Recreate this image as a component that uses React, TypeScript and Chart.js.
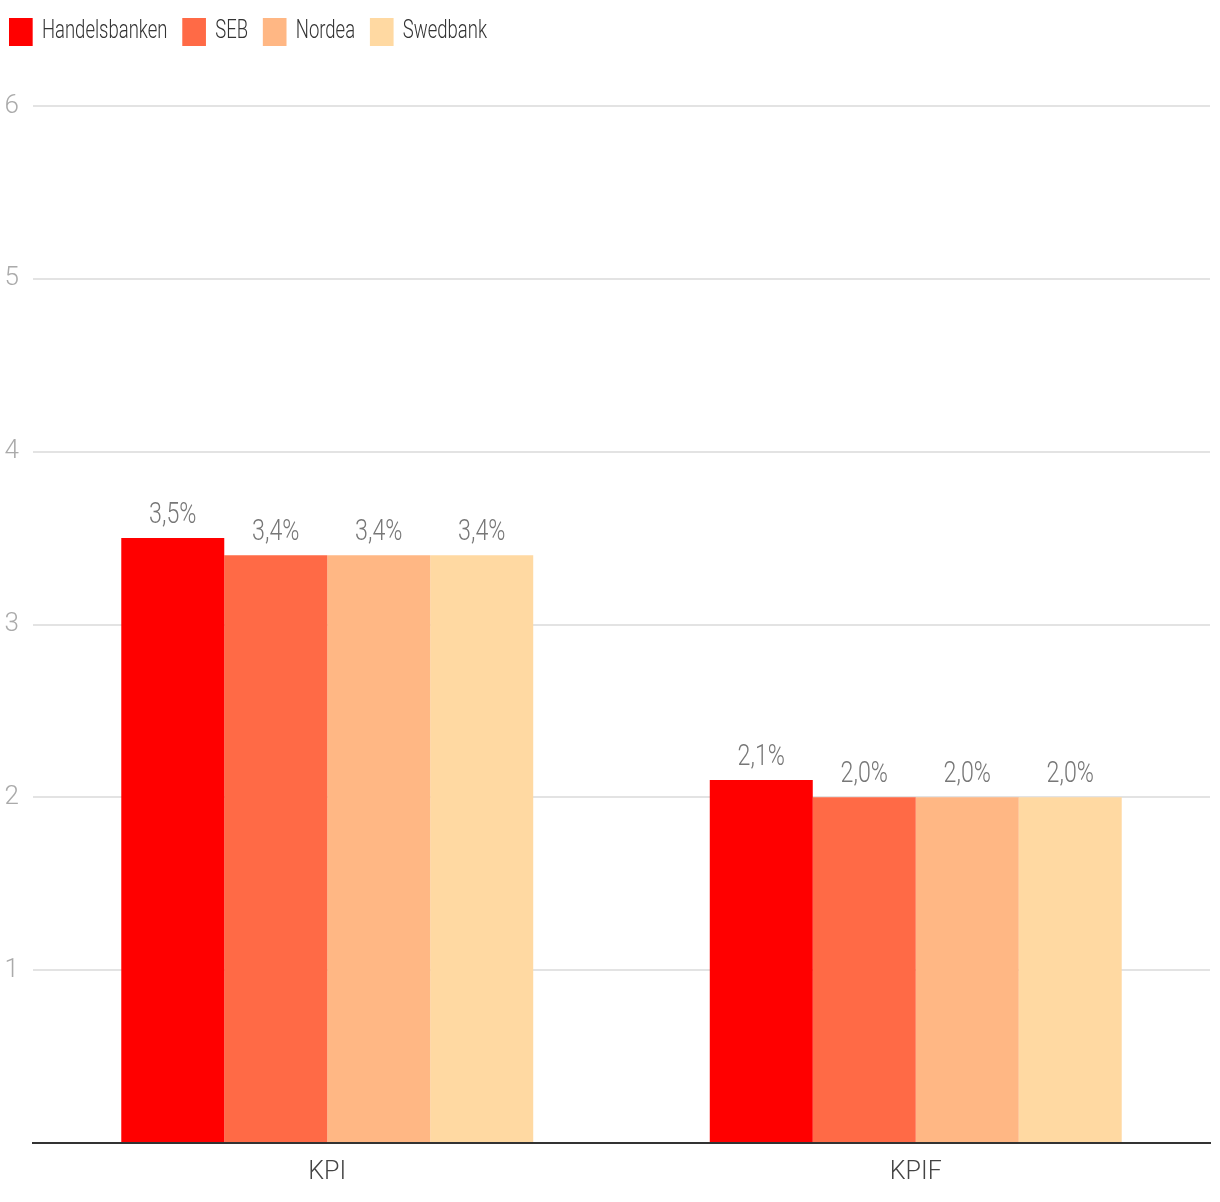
import React, { useEffect, useRef } from "react";
import { Chart, registerables } from "chart.js";

Chart.register(...registerables);

const categories = ["KPI", "KPIF"];
const seriesNames = ["Handelsbanken", "SEB", "Nordea", "Swedbank"];
const handelsbanken = [3.5, 2.1];
const seb = [3.4, 2.0];
const nordea = [3.4, 2.0];
const swedbank = [3.4, 2.0];
const seriesColors = ["#ff0000", "#ff6a46", "#ffb784", "#ffd9a2"];
const yTicks = [0, 1, 2, 3, 4, 5, 6];

const FONT = "Roboto, sans-serif";
const W = "300";
const LEGEND_SCALE = 0.74;
const LEGEND_PAD = 20;

const valueLabels = {
  id: "valueLabels",
  afterDatasetsDraw(chart: any) {
    const ctx = chart.ctx;
    chart.data.datasets.forEach((ds: any, i: number) => {
      const meta = chart.getDatasetMeta(i);
      meta.data.forEach((bar: any, j: number) => {
        const v = ds.data[j] as number;
        const txt = v.toFixed(1).replace(".", ",") + "%";
        ctx.save();
        ctx.font = `${W} 29px ${FONT}`;
        ctx.fillStyle = "#777777";
        ctx.textAlign = "center";
        ctx.textBaseline = "alphabetic";
        ctx.translate(bar.x, bar.y - 15);
        ctx.scale(0.8, 1);
        ctx.fillText(txt, 0, 0);
        ctx.restore();
      });
    });
  },
};

const legendLayout = {
  id: "legendLayout",
  beforeInit(chart: any) {
    const legend = chart.legend;
    const origFit = legend.fit;
    legend.fit = function fit() {
      origFit.call(this);
      this.height = 106;
    };
    const origDraw = legend.draw;
    legend.draw = function draw() {
      const ctx = this.ctx;
      ctx.save();
      ctx.translate(9, 18);
      ctx.scale(LEGEND_SCALE, 1);
      ctx.translate(-(this.left + LEGEND_PAD), -(this.top + LEGEND_PAD));
      origDraw.call(this);
      ctx.restore();
    };
  },
};

export default function App() {
  const ref = useRef<HTMLCanvasElement>(null);
  useEffect(() => {
    if (!ref.current) return;
    const values = [handelsbanken, seb, nordea, swedbank];
    const chart = new Chart(ref.current, {
      type: "bar",
      data: {
        labels: categories,
        datasets: seriesNames.map((name, i) => ({
          label: name,
          data: values[i],
          backgroundColor: seriesColors[i],
          borderWidth: 0,
          categoryPercentage: 0.7,
          barPercentage: 1.0,
        })),
      },
      options: {
        responsive: false,
        animation: false,
        layout: { padding: { top: 0, left: 0, right: 10, bottom: 0 } },
        plugins: {
          legend: {
            display: true,
            position: "top",
            align: "start",
            labels: {
              boxWidth: 32,
              boxHeight: 28,
              padding: LEGEND_PAD,
              color: "#333333",
              font: { family: FONT, size: 25, weight: W as any },
            },
          },
          tooltip: { enabled: false },
        },
        scales: {
          x: {
            grid: { display: false, drawTicks: false },
            border: { display: true, color: "#333333", width: 2 },
            ticks: {
              color: "#444444",
              padding: 15,
              font: { family: FONT, size: 25, weight: W as any },
            },
            afterFit: (s: any) => {
              s.height = 59;
            },
          },
          y: {
            min: 0,
            max: 6,
            afterBuildTicks: (s: any) => {
              s.ticks = yTicks.map((v) => ({ value: v }));
            },
            grid: { color: "#e3e3e3", lineWidth: 2, drawTicks: false },
            border: { display: false },
            ticks: {
              color: "#aaaaaa",
              padding: 14,
              font: { family: FONT, size: 26, weight: W as any },
              callback: (v: any) => (v === 0 ? "" : String(v)),
            },
            afterFit: (s: any) => {
              s.width = 33;
            },
          },
        },
      },
      plugins: [valueLabels, legendLayout],
    });
    return () => chart.destroy();
  }, []);
  return (
    <div style={{ position: "absolute", left: 0, top: 0, width: 1220, height: 1202, background: "#fff" }}>
      <canvas ref={ref} width={1220} height={1202} />
    </div>
  );
}
